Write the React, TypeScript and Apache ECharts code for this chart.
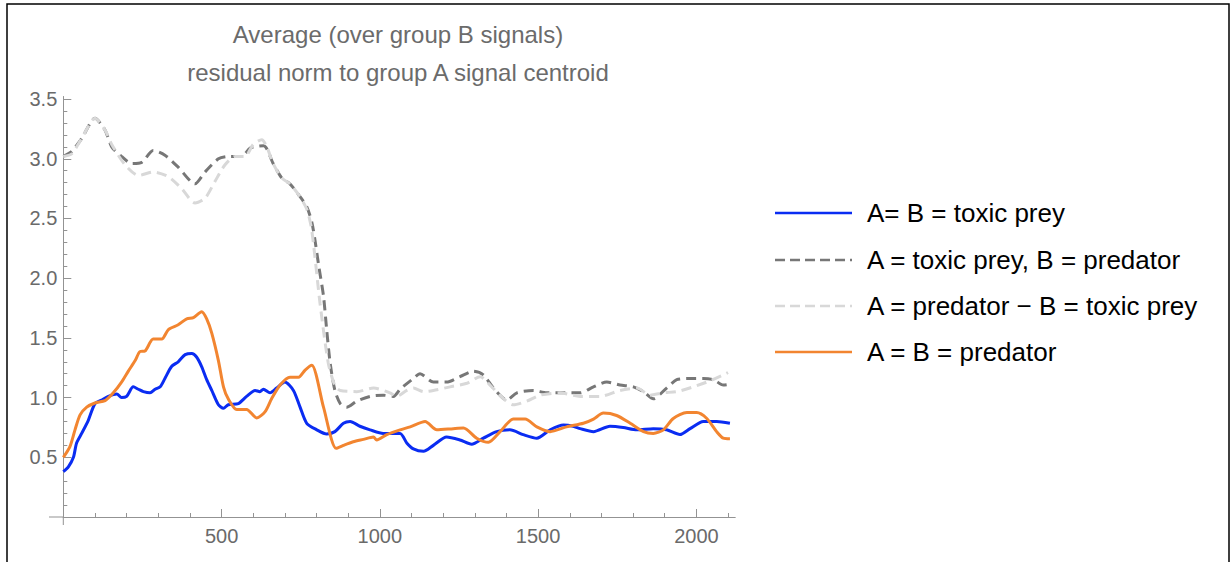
import React, { useEffect, useRef } from "react";
import * as echarts from "echarts";

// Sample index vs. average residual norm, one [x, y] pair per reading.
const sameToxicPrey: [number, number][] = [
  [0, 0.38], [16, 0.42], [32, 0.5], [42, 0.62], [58, 0.7], [79, 0.81], [100, 0.95], [121, 0.98],
  [142, 1.01], [169, 1.03], [184, 1.0], [200, 1.01], [221, 1.09], [237, 1.07], [253, 1.05], [274, 1.04],
  [290, 1.07], [306, 1.09], [321, 1.16], [342, 1.26], [363, 1.3], [385, 1.36], [406, 1.37], [421, 1.34],
  [437, 1.26], [453, 1.15], [469, 1.06], [490, 0.94], [506, 0.91], [521, 0.94], [553, 0.95], [579, 1.01],
  [606, 1.06], [621, 1.05], [632, 1.07], [653, 1.04], [674, 1.08], [700, 1.13], [727, 1.06], [748, 0.92],
  [769, 0.785], [801, 0.73], [832, 0.695], [858, 0.715], [885, 0.785], [906, 0.8], [937, 0.76], [969, 0.73],
  [1011, 0.7], [1064, 0.7], [1085, 0.62], [1106, 0.57], [1138, 0.55], [1169, 0.6], [1211, 0.67], [1253, 0.645],
  [1290, 0.61], [1327, 0.66], [1369, 0.715], [1411, 0.73], [1453, 0.69], [1496, 0.66], [1538, 0.73], [1580, 0.77],
  [1611, 0.76], [1633, 0.74], [1675, 0.715], [1727, 0.76], [1769, 0.75], [1812, 0.73], [1864, 0.74], [1906, 0.73],
  [1948, 0.69], [1980, 0.74], [2022, 0.8], [2064, 0.8], [2106, 0.785],
];

const toxicPreyVsPredator: [number, number][] = [
  [0, 3.02], [26, 3.06], [58, 3.17], [100, 3.34], [132, 3.24], [153, 3.1], [184, 3.02], [216, 2.96],
  [248, 2.97], [284, 3.07], [321, 3.03], [363, 2.93], [416, 2.79], [448, 2.89], [490, 3.0], [521, 3.02],
  [564, 3.02], [590, 3.09], [633, 3.11], [663, 2.96], [690, 2.84], [716, 2.79], [743, 2.7], [769, 2.6],
  [785, 2.47], [795, 2.32], [806, 2.12], [822, 1.85], [832, 1.57], [843, 1.29], [858, 1.06], [875, 0.95],
  [895, 0.92], [927, 0.97], [969, 1.01], [1011, 1.02], [1043, 1.01], [1064, 1.07], [1106, 1.16], [1127, 1.2],
  [1169, 1.13], [1211, 1.13], [1253, 1.175], [1296, 1.22], [1327, 1.19], [1359, 1.08], [1401, 0.98], [1433, 1.04],
  [1485, 1.06], [1527, 1.04], [1580, 1.04], [1633, 1.04], [1675, 1.09], [1717, 1.13], [1759, 1.105], [1801, 1.09],
  [1833, 1.05], [1864, 0.99], [1906, 1.08], [1938, 1.15], [1980, 1.16], [2022, 1.16], [2054, 1.15], [2085, 1.105],
  [2100, 1.11],
];

const predatorVsToxicPrey: [number, number][] = [
  [0, 3.02], [26, 3.04], [58, 3.17], [100, 3.34], [132, 3.24], [153, 3.12], [195, 2.95], [238, 2.86],
  [284, 2.89], [332, 2.85], [374, 2.75], [416, 2.63], [448, 2.67], [479, 2.81], [511, 2.95], [543, 3.02],
  [574, 3.02], [600, 3.12], [627, 3.16], [643, 3.1], [663, 2.96], [690, 2.84], [716, 2.79], [743, 2.7],
  [769, 2.58], [785, 2.4], [811, 1.79], [837, 1.29], [858, 1.1], [875, 1.06], [927, 1.05], [980, 1.08],
  [1032, 1.04], [1053, 1.01], [1085, 1.06], [1106, 1.08], [1138, 1.05], [1169, 1.06], [1222, 1.09], [1275, 1.12],
  [1317, 1.175], [1348, 1.105], [1391, 0.99], [1422, 0.94], [1464, 0.97], [1506, 1.02], [1569, 1.04], [1633, 1.01],
  [1696, 1.01], [1759, 1.06], [1812, 1.08], [1854, 1.02], [1896, 1.04], [1938, 1.05], [1990, 1.09], [2033, 1.13],
  [2085, 1.19], [2100, 1.21],
];

const samePredator: [number, number][] = [
  [0, 0.5], [21, 0.59], [37, 0.73], [53, 0.855], [74, 0.92], [100, 0.955], [132, 0.975], [158, 1.04],
  [184, 1.13], [205, 1.22], [227, 1.31], [242, 1.385], [258, 1.39], [284, 1.49], [311, 1.49], [332, 1.57],
  [363, 1.61], [390, 1.66], [411, 1.67], [437, 1.72], [453, 1.66], [469, 1.54], [490, 1.31], [506, 1.09],
  [521, 0.99], [548, 0.9], [579, 0.9], [611, 0.83], [637, 0.88], [658, 0.99], [685, 1.105], [716, 1.17],
  [743, 1.17], [764, 1.23], [785, 1.27], [822, 0.92], [862, 0.575], [885, 0.6], [916, 0.63], [948, 0.65],
  [980, 0.67], [990, 0.645], [1022, 0.69], [1064, 0.73], [1096, 0.755], [1143, 0.8], [1180, 0.73], [1232, 0.74],
  [1264, 0.745], [1306, 0.66], [1343, 0.625], [1380, 0.715], [1422, 0.82], [1459, 0.82], [1496, 0.755], [1538, 0.715],
  [1590, 0.755], [1643, 0.785], [1675, 0.82], [1706, 0.87], [1748, 0.85], [1791, 0.785], [1833, 0.715], [1864, 0.7],
  [1896, 0.73], [1927, 0.825], [1970, 0.875], [2001, 0.875], [2033, 0.825], [2064, 0.715], [2085, 0.66], [2106, 0.655],
];

const seriesNames = [
  "A= B = toxic prey",
  "A = toxic prey, B = predator",
  "A = predator \u2212 B = toxic prey",
  "A = B = predator",
];

const xMajorTicks = [500, 1000, 1500, 2000];
const xMinorTicks = [100, 200, 300, 400, 600, 700, 800, 900, 1100, 1200, 1300, 1400, 1600, 1700, 1800, 1900, 2100];
const yMajorTicks = [0.5, 1.0, 1.5, 2.0, 2.5, 3.0, 3.5];
const yMinorTicks = [
  0.1, 0.2, 0.3, 0.4, 0.6, 0.7, 0.8, 0.9, 1.1, 1.2, 1.3, 1.4, 1.6, 1.7, 1.8, 1.9,
  2.1, 2.2, 2.3, 2.4, 2.6, 2.7, 2.8, 2.9, 3.1, 3.2, 3.3, 3.4,
];

const FONT = "'Liberation Sans', Arial, Helvetica, sans-serif";
const AXIS_COLOR = "#939393";
const LABEL_COLOR = "#6a6a6a";

const X_MIN = 0;
const X_MAX = 2122;
const Y_MIN = 0;
const Y_MAX = 3.52;

// plot frame in pixels
const GRID_LEFT = 63.3;
const GRID_TOP = 96.7;
const GRID_WIDTH = 671.7;
const GRID_HEIGHT = 420.3;

const COLORS = ["#0a2cf2", "#777777", "#d8d8d8", "#f28530"];
const DASHES: (number[] | null)[] = [null, [10, 5], [10, 5], null];

export default function App() {
  const ref = useRef<HTMLDivElement>(null);

  useEffect(() => {
    if (!ref.current) return;
    const chart = echarts.init(ref.current, undefined, { renderer: "svg" });

    const baseX = {
      type: "value" as const,
      min: X_MIN,
      max: X_MAX,
      position: "bottom" as const,
      axisLine: { onZero: false, lineStyle: { color: AXIS_COLOR, width: 1 } },
      splitLine: { show: false },
    };
    const baseY = {
      type: "value" as const,
      min: Y_MIN,
      max: Y_MAX,
      position: "left" as const,
      axisLine: { onZero: false, lineStyle: { color: AXIS_COLOR, width: 1 } },
      splitLine: { show: false },
    };

    const axisBottom = GRID_TOP + GRID_HEIGHT;
    const legendRows = [213, 260, 306, 352];

    const legendGraphics: any[] = [];
    seriesNames.forEach((name, i) => {
      const y = legendRows[i];
      legendGraphics.push({
        type: "line",
        shape: { x1: 775, y1: y, x2: 852, y2: y },
        style: {
          stroke: COLORS[i],
          lineWidth: 2.5,
          lineDash: DASHES[i] || undefined,
        },
        silent: true,
      });
      legendGraphics.push({
        type: "text",
        x: 867,
        y,
        style: {
          text: name,
          fontFamily: FONT,
          fontSize: 26,
          fill: "#000000",
          verticalAlign: "middle",
          align: "left",
        },
        silent: true,
      });
    });

    chart.setOption({
      animation: false,
      backgroundColor: "#ffffff",
      title: {
        text: "Average (over group B signals)\nresidual norm to group A signal centroid",
        left: 393,
        top: 10,
        textAlign: "center",
        textStyle: {
          fontFamily: FONT,
          fontSize: 24,
          fontWeight: "normal",
          color: "#6b6b6b",
          lineHeight: 38,
        },
      },
      grid: { left: GRID_LEFT, top: GRID_TOP, width: GRID_WIDTH, height: GRID_HEIGHT, containLabel: false },
      xAxis: [
        {
          ...baseX,
          axisTick: { inside: true, length: 8, customValues: xMajorTicks, lineStyle: { color: AXIS_COLOR } },
          axisLabel: {
            customValues: xMajorTicks,
            margin: 9,
            fontFamily: FONT,
            fontSize: 20,
            color: LABEL_COLOR,
            formatter: (v: number) => String(v),
          },
        },
        {
          ...baseX,
          axisTick: { inside: true, length: 4, customValues: xMinorTicks, lineStyle: { color: AXIS_COLOR } },
          axisLabel: { show: false },
        },
      ],
      yAxis: [
        {
          ...baseY,
          axisTick: { inside: true, length: 8, customValues: yMajorTicks, lineStyle: { color: AXIS_COLOR } },
          axisLabel: {
            customValues: yMajorTicks,
            margin: 6,
            fontFamily: FONT,
            fontSize: 20,
            color: LABEL_COLOR,
            formatter: (v: number) => v.toFixed(1),
          },
        },
        {
          ...baseY,
          axisTick: { inside: true, length: 4, customValues: yMinorTicks, lineStyle: { color: AXIS_COLOR } },
          axisLabel: { show: false },
        },
      ],
      graphic: [
        {
          type: "rect",
          shape: { x: 7, y: 4, width: 1222, height: 620 },
          style: { fill: "none", stroke: "#000000", lineWidth: 1.5 },
          silent: true,
        },
        // axis lines continue a little past the origin
        {
          type: "line",
          shape: { x1: 49, y1: axisBottom, x2: GRID_LEFT, y2: axisBottom },
          style: { stroke: AXIS_COLOR, lineWidth: 1 },
          silent: true,
        },
        {
          type: "line",
          shape: { x1: GRID_LEFT, y1: axisBottom, x2: GRID_LEFT, y2: axisBottom + 8 },
          style: { stroke: AXIS_COLOR, lineWidth: 1 },
          silent: true,
        },
        ...legendGraphics,
      ],
      series: [
        {
          name: seriesNames[0],
          type: "line",
          data: sameToxicPrey,
          showSymbol: false,
          symbol: "none",
          smooth: 0.25,
          clip: false,
          lineStyle: { color: COLORS[0], width: 3 },
        },
        {
          name: seriesNames[1],
          type: "line",
          data: toxicPreyVsPredator,
          showSymbol: false,
          symbol: "none",
          smooth: 0.25,
          clip: false,
          lineStyle: { color: COLORS[1], width: 3, type: [10, 6] },
        },
        {
          name: seriesNames[2],
          type: "line",
          data: predatorVsToxicPrey,
          showSymbol: false,
          symbol: "none",
          smooth: 0.25,
          clip: false,
          lineStyle: { color: COLORS[2], width: 3, type: [10, 6] },
        },
        {
          name: seriesNames[3],
          type: "line",
          data: samePredator,
          showSymbol: false,
          symbol: "none",
          smooth: 0.25,
          clip: false,
          lineStyle: { color: COLORS[3], width: 3 },
        },
      ],
    });

    return () => chart.dispose();
  }, []);

  return (
    <div
      ref={ref}
      style={{ position: "absolute", left: 0, top: 0, width: 1231, height: 562 }}
    />
  );
}
